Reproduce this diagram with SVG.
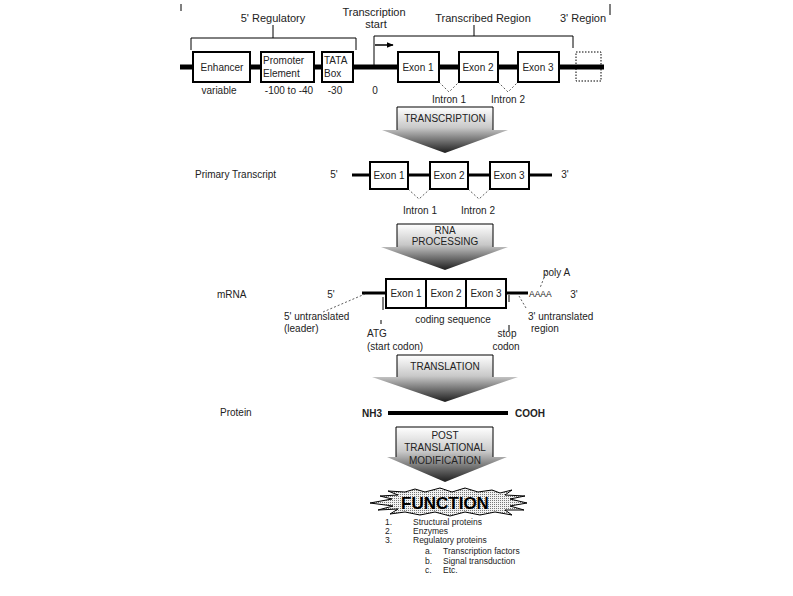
<svg xmlns="http://www.w3.org/2000/svg" width="793" height="596" viewBox="0 0 793 596">
<defs>
<linearGradient id="grad" x1="0" y1="0" x2="0" y2="1">
<stop offset="0" stop-color="#ffffff"/>
<stop offset="0.45" stop-color="#c8c8c8"/>
<stop offset="1" stop-color="#1e1e1e"/>
</linearGradient>
<pattern id="dots" width="2" height="2" patternUnits="userSpaceOnUse">
<rect width="2" height="2" fill="#f2f2f2"/>
<rect width="1" height="1" fill="#777"/>
</pattern>
<marker id="ah" viewBox="0 0 10 10" refX="9" refY="5" markerWidth="7" markerHeight="7" orient="auto" markerUnits="userSpaceOnUse">
<path d="M0,1 L10,5 L0,9 Z" fill="#000"/>
</marker>
</defs>
<style>
text{font-family:"Liberation Sans",Arial,sans-serif;fill:#222;}
.t11{font-size:11px;}
.t10{font-size:10px;}
.t9{font-size:9px;}
.t8{font-size:8.5px;}
.mid{text-anchor:middle;}
.box{fill:#fff;stroke:#000;stroke-width:2;}
.dotbox{fill:none;stroke:#000;stroke-width:1;stroke-dasharray:1.5 1.5;}
.thin{fill:none;stroke:#000;stroke-width:1;}
.dash{fill:none;stroke:#333;stroke-width:0.8;stroke-dasharray:2 2;}
.bb{stroke:#000;stroke-width:5;}
.bb3{stroke:#000;stroke-width:3;}
.arr{fill:url(#grad);stroke:none;}
.bold{font-weight:bold;}
</style>
<rect width="793" height="596" fill="#fff"/>

<!-- connectors: brackets, ticks, dashed leaders, backbones -->
<g id="connectors">
<line x1="181" y1="4" x2="181" y2="11" class="thin"/>
<line x1="610" y1="4" x2="610" y2="15" class="thin"/>
<polyline points="191,50 191,38 356,38 356,50" class="thin"/>
<line x1="273" y1="25" x2="273" y2="38" class="thin"/>
<polyline points="374,66 374,36 573,36 573,48" class="thin"/>
<line x1="474" y1="25" x2="474" y2="36" class="thin"/>
<line x1="375" y1="45" x2="393" y2="45" stroke="#000" stroke-width="1.5" marker-end="url(#ah)"/>
<line x1="180" y1="67" x2="604" y2="67" class="bb"/>
<polyline points="439,82 449,92 459,82" class="dash"/>
<polyline points="498,82 508,92 518,82" class="dash"/>
<line x1="352" y1="175" x2="552" y2="175" class="bb3"/>
<polyline points="408,189 419,199 430,189" class="dash"/>
<polyline points="468,189 479,199 490,189" class="dash"/>
<line x1="362" y1="293" x2="386" y2="293" class="bb3"/>
<line x1="505" y1="293" x2="528" y2="293" class="bb3"/>
<line x1="323" y1="312" x2="365" y2="294" class="dash"/>
<line x1="526" y1="308" x2="519" y2="296" class="dash"/>
<line x1="547" y1="270" x2="540" y2="288" class="dash"/>
<line x1="383" y1="297" x2="383" y2="310" class="thin"/>
<line x1="381" y1="320" x2="381" y2="324" class="thin"/>
<line x1="509" y1="295" x2="509" y2="302" class="thin"/>
<line x1="509" y1="325" x2="509" y2="331" class="thin"/>
<line x1="388" y1="413" x2="508" y2="413" stroke="#000" stroke-width="4"/>
</g>

<!-- top labels -->
<g id="header">
<text x="273" y="22" class="t11 mid">5' Regulatory</text>
<text x="374" y="16" class="t11 mid">Transcription</text>
<text x="376" y="28" class="t11 mid">start</text>
<text x="483" y="22" class="t11 mid">Transcribed Region</text>
<text x="583" y="22" class="t11 mid">3' Region</text>
</g>

<g id="enhancer">
<rect x="193" y="52" width="57" height="30" class="box"/>
<text x="222" y="71" class="t10 mid">Enhancer</text>
<text x="219" y="94" class="t10 mid">variable</text>
</g>
<g id="promoter">
<rect x="261" y="52" width="53" height="30" class="box"/>
<text x="263" y="64" class="t10">Promoter</text>
<text x="263" y="77" class="t10">Element</text>
<text x="289" y="94" class="t10 mid">-100 to -40</text>
</g>
<g id="tata">
<rect x="322" y="52" width="31" height="30" class="box"/>
<text x="324" y="64" class="t10">TATA</text>
<text x="324" y="77" class="t10">Box</text>
<text x="335" y="94" class="t10 mid">-30</text>
</g>
<g id="tss">
<text x="375" y="94" class="t10 mid">0</text>
</g>
<g id="gene-exon1">
<rect x="398" y="52" width="41" height="30" class="box"/>
<text x="418" y="71" class="t10 mid">Exon 1</text>
</g>
<g id="gene-exon2">
<rect x="459" y="52" width="39" height="30" class="box"/>
<text x="478" y="71" class="t10 mid">Exon 2</text>
</g>
<g id="gene-exon3">
<rect x="518" y="52" width="41" height="30" class="box"/>
<text x="538" y="71" class="t10 mid">Exon 3</text>
</g>
<g id="gene-3region">
<rect x="576" y="52" width="25" height="29" class="dotbox"/>
</g>
<g id="gene-introns">
<text x="449" y="103" class="t10 mid">Intron 1</text>
<text x="508" y="103" class="t10 mid">Intron 2</text>
</g>

<g id="transcription-arrow">
<path d="M397,107 H493 V130 H508 L445,153 L382,130 H397 Z" class="arr"/>
<polyline points="397,130 397,107 493,107 493,130" class="thin"/>
<text x="445" y="122" class="t10 mid">TRANSCRIPTION</text>
</g>

<g id="primary-transcript">
<text x="195" y="178" class="t10">Primary Transcript</text>
<text x="334" y="178" class="t10 mid">5'</text>
<text x="565" y="178" class="t10 mid">3'</text>
<rect x="370" y="162" width="38" height="27" class="box"/>
<text x="389" y="179" class="t10 mid">Exon 1</text>
<rect x="430" y="162" width="38" height="27" class="box"/>
<text x="449" y="179" class="t10 mid">Exon 2</text>
<rect x="490" y="162" width="39" height="27" class="box"/>
<text x="509" y="179" class="t10 mid">Exon 3</text>
<text x="420" y="214" class="t10 mid">Intron 1</text>
<text x="478" y="214" class="t10 mid">Intron 2</text>
</g>

<g id="rna-processing-arrow">
<path d="M397,224 H493 V247 H508 L445,270 L381,247 H397 Z" class="arr"/>
<polyline points="397,247 397,224 493,224 493,247" class="thin"/>
<text x="445" y="234" class="t10 mid">RNA</text>
<text x="445" y="245" class="t10 mid">PROCESSING</text>
</g>

<g id="mrna">
<text x="217" y="298" class="t10">mRNA</text>
<text x="331" y="298" class="t10 mid">5'</text>
<text x="574" y="298" class="t10 mid">3'</text>
<rect x="386" y="279" width="120" height="29" class="box"/>
<line x1="426" y1="279" x2="426" y2="308" stroke="#000" stroke-width="2"/>
<line x1="466" y1="279" x2="466" y2="308" stroke="#000" stroke-width="2"/>
<text x="406" y="297" class="t10 mid">Exon 1</text>
<text x="446" y="297" class="t10 mid">Exon 2</text>
<text x="486" y="297" class="t10 mid">Exon 3</text>
<text x="529" y="297" class="t8">AAAA</text>
<text x="543" y="276" class="t10">poly A</text>
<text x="284" y="320" class="t10">5' untranslated</text>
<text x="284" y="332" class="t10">(leader)</text>
<text x="453" y="323" class="t10 mid">coding sequence</text>
<text x="528" y="320" class="t10">3' untranslated</text>
<text x="531" y="332" class="t10">region</text>
<text x="367" y="337" class="t10">ATG</text>
<text x="367" y="350" class="t10">(start codon)</text>
<text x="507" y="337" class="t10 mid">stop</text>
<text x="506" y="350" class="t10 mid">codon</text>
</g>

<g id="translation-arrow">
<path d="M397,355 H493 V377 H518 L445,402 L372,377 H397 Z" class="arr"/>
<polyline points="397,377 397,355 493,355 493,377" class="thin"/>
<text x="445" y="370" class="t10 mid">TRANSLATION</text>
</g>

<g id="protein">
<text x="220" y="416" class="t10">Protein</text>
<text x="362" y="417" class="t10 bold">NH3</text>
<text x="515" y="417" class="t10 bold">COOH</text>
</g>

<g id="ptm-arrow">
<path d="M396,427 H493 V457 H507 L445,482 L387,457 H396 Z" class="arr"/>
<polyline points="396,457 396,427 493,427 493,457" class="thin"/>
<text x="445" y="439" class="t10 mid">POST</text>
<text x="445" y="451" class="t10 mid">TRANSLATIONAL</text>
<text x="445" y="464" class="t10 mid">MODIFICATION</text>
</g>

<g id="function">
<polygon points="370,503 392,499 380,496 398,495 388,491 405,492 415,489 425,492 440,488 452,492 465,488 478,492 492,490 500,493 512,490 505,495 525,496 510,499 527,503 510,506 524,510 505,510 512,515 495,512 480,515 465,512 450,516 435,512 420,515 405,512 390,514 398,509 378,510 393,506" fill="url(#dots)" stroke="#000" stroke-width="1"/>
<text x="445" y="509" font-size="17" class="bold mid" style="fill:#000">FUNCTION</text>
<text x="385" y="525" class="t8">1.</text>
<text x="413" y="525" class="t8">Structural proteins</text>
<text x="385" y="534" class="t8">2.</text>
<text x="413" y="534" class="t8">Enzymes</text>
<text x="385" y="543" class="t8">3.</text>
<text x="413" y="543" class="t8">Regulatory proteins</text>
<text x="425" y="554" class="t8">a.</text>
<text x="443" y="554" class="t8">Transcription factors</text>
<text x="425" y="564" class="t8">b.</text>
<text x="443" y="564" class="t8">Signal transduction</text>
<text x="425" y="573" class="t8">c.</text>
<text x="443" y="573" class="t8">Etc.</text>
</g>
</svg>
